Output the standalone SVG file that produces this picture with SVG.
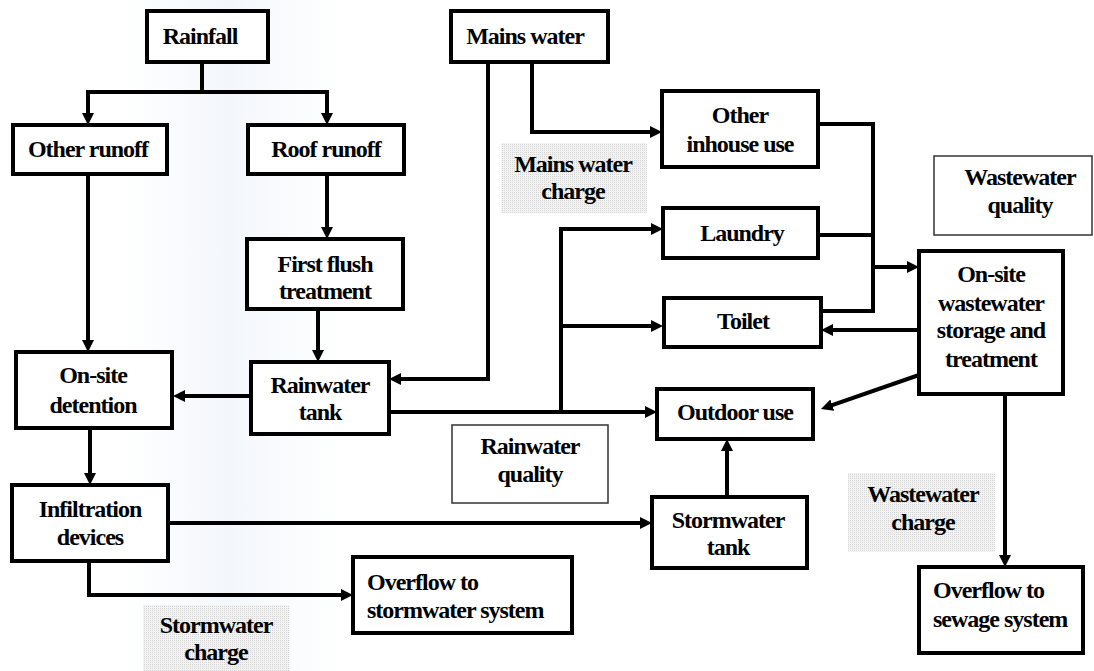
<svg xmlns="http://www.w3.org/2000/svg" width="1094" height="671" viewBox="0 0 1094 671">
<style>
.node rect{fill:#fff;stroke:#000;stroke-width:4}
.note rect{fill:#fff;stroke:#333;stroke-width:1.5}
.charge rect{fill:url(#stip);stroke:none}
text{font-family:'Liberation Serif','Times New Roman',Times,serif;font-weight:700;font-size:24px;letter-spacing:-1px;fill:#000}
.c{text-anchor:middle}
#connectors path{fill:none;stroke:#000;stroke-width:4;stroke-linejoin:miter}
.a{marker-end:url(#arr)}
</style>
<defs>
<marker id="arr" viewBox="0 0 12 12" refX="7" refY="6" markerWidth="12" markerHeight="12" orient="auto" markerUnits="userSpaceOnUse">
<path d="M0,0 L12,6 L0,12 z" fill="#000"/>
</marker>
<pattern id="stip" width="2" height="2" patternUnits="userSpaceOnUse">
<rect width="2" height="2" fill="#f3f3f3"/>
<rect width="1" height="1" fill="#d4d4d4"/>
</pattern>
<linearGradient id="band" x1="0" x2="1" y1="0" y2="0">
<stop offset="0" stop-color="#eef3fa" stop-opacity="0"/>
<stop offset="0.5" stop-color="#eef3fa" stop-opacity="0.7"/>
<stop offset="1" stop-color="#eef3fa" stop-opacity="0"/>
</linearGradient>
</defs>
<rect width="1094" height="671" fill="#fff"/>
<rect x="120" y="0" width="220" height="671" fill="url(#band)"/>

<g font-family="Liberation Serif, serif" font-weight="bold">
<g id="charge-mains" class="charge"><rect x="501" y="143" width="146" height="70"/>
<text class="c" x="573" y="172">Mains water</text><text class="c" x="573" y="199">charge</text></g>
<g id="charge-storm" class="charge"><rect x="143" y="605" width="146" height="66"/>
<text class="c" x="216" y="633">Stormwater</text><text class="c" x="216" y="660">charge</text></g>
<g id="charge-waste" class="charge"><rect x="848" y="473" width="147" height="79"/>
<text class="c" x="923" y="502">Wastewater</text><text class="c" x="923" y="530">charge</text></g>

<g id="connectors">
<path class="a" d="M202,62 V92 H88 V120"/>
<path class="a" d="M202,92 H327 V120"/>
<path class="a" d="M88,174 V347"/>
<path class="a" d="M327,174 V234"/>
<path class="a" d="M318,309 V357"/>
<path class="a" d="M251,396 H178"/>
<path class="a" d="M90,428 V480"/>
<path class="a" d="M168,523 H647"/>
<path class="a" d="M89,561 V595 H348"/>
<path class="a" d="M488,62 V379 H394"/>
<path class="a" d="M532,62 V132 H657"/>
<path class="a" d="M389,412 H652"/>
<path class="a" d="M561,412 V229 H658"/>
<path class="a" d="M561,326 H658"/>
<path d="M818,124 H873 V311 H821"/>
<path d="M818,235 H873"/>
<path class="a" d="M873,267 H914"/>
<path class="a" d="M919,330 H826"/>
<path class="a" d="M919,375 L825.7,407.4"/>
<path class="a" d="M727,497 V444"/>
<path class="a" d="M1005,394 V562"/>
</g>

<g id="rainfall" class="node"><rect x="147" y="11" width="121" height="51"/><text class="c" x="200" y="44">Rainfall</text></g>
<g id="mains-water" class="node"><rect x="451" y="11" width="157" height="51"/><text class="c" x="525" y="44">Mains water</text></g>
<g id="other-runoff" class="node"><rect x="13" y="125" width="154" height="49"/><text class="c" x="88" y="157">Other runoff</text></g>
<g id="roof-runoff" class="node"><rect x="248" y="125" width="156" height="49"/><text class="c" x="326" y="157">Roof runoff</text></g>
<g id="other-inhouse" class="node"><rect x="662" y="91" width="156" height="76"/><text class="c" x="740" y="123">Other</text><text class="c" x="740" y="152">inhouse use</text></g>
<g id="first-flush" class="node"><rect x="247" y="239" width="156" height="70"/><text class="c" x="325" y="272">First flush</text><text class="c" x="325" y="299">treatment</text></g>
<g id="laundry" class="node"><rect x="663" y="208" width="155" height="50"/><text class="c" x="742" y="241">Laundry</text></g>
<g id="toilet" class="node"><rect x="664" y="298" width="157" height="49"/><text class="c" x="743" y="329">Toilet</text></g>
<g id="on-site-detention" class="node"><rect x="16" y="352" width="156" height="76"/><text class="c" x="93" y="383">On-site</text><text class="c" x="93" y="413">detention</text></g>
<g id="rainwater-tank" class="node"><rect x="251" y="362" width="138" height="72"/><text class="c" x="320" y="393">Rainwater</text><text class="c" x="320" y="420">tank</text></g>
<g id="outdoor-use" class="node"><rect x="657" y="389" width="156" height="50"/><text class="c" x="735" y="420">Outdoor use</text></g>
<g id="wastewater-treatment" class="node"><rect x="919" y="251" width="144" height="143"/><text class="c" x="991" y="282">On-site</text><text class="c" x="991" y="311">wastewater</text><text class="c" x="991" y="338">storage and</text><text class="c" x="991" y="367">treatment</text></g>
<g id="infiltration" class="node"><rect x="12" y="485" width="156" height="76"/><text class="c" x="90" y="517">Infiltration</text><text class="c" x="90" y="545">devices</text></g>
<g id="stormwater-tank" class="node"><rect x="652" y="497" width="155" height="71"/><text class="c" x="728" y="528">Stormwater</text><text class="c" x="728" y="555">tank</text></g>
<g id="overflow-storm" class="node"><rect x="353" y="557" width="219" height="76"/><text x="367" y="590">Overflow to</text><text x="367" y="618">stormwater system</text></g>
<g id="overflow-sewage" class="node"><rect x="919" y="567" width="164" height="86"/><text x="933" y="598">Overflow to</text><text x="933" y="627">sewage system</text></g>

<g id="rainwater-quality" class="note"><rect x="452" y="425" width="156" height="78"/><text class="c" x="530" y="454">Rainwater</text><text class="c" x="530" y="482">quality</text></g>
<g id="wastewater-quality" class="note"><rect x="934" y="156" width="158" height="79"/><text class="c" x="1020" y="185">Wastewater</text><text class="c" x="1020" y="213">quality</text></g>
</g>
</svg>
